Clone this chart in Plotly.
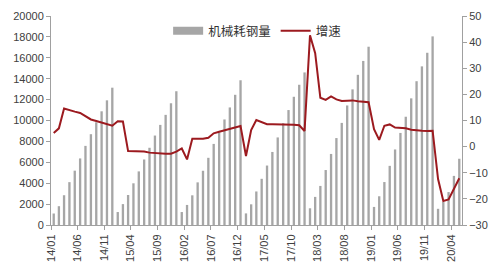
import plotly.graph_objects as go
import pandas as pd

months = pd.date_range("2014-01-01", "2020-05-01", freq="MS").strftime("%Y-%m-%d").tolist()

steel_use = [
    1100, 1800, 2850, 4100, 5200, 6370, 7570, 8690, 9830, 10880, 11930, 13140,
    1240, 2000, 2870, 3990, 5130, 6270, 7390, 8560, 9580, 10540, 11650, 12800,
    1240, 1920, 2840, 4080, 5190, 6430, 7760, 8870, 10100, 11250, 12460, 13850,
    1110, 1980, 3210, 4420, 5690, 6990, 8380, 9740, 11000, 12270, 13420, 14600,
    1600, 2690, 3740, 5260, 6800, 8320, 9770, 11440, 12980, 14370, 15700, 17060,
    1730, 2750, 4110, 5660, 7230, 8810, 10360, 12120, 13760, 15180, 16480, 18050,
    1550, 2200, 3150, 4700, 6340,
]

growth = [
    5.2, 7.0, 14.6, 13.9, 13.4, 12.9, 11.7, 10.4, 9.8, 9.2, 8.6, 8.0,
    9.7, 9.6, -1.7, -1.8, -2.0, -1.9, -2.3, -2.5, -2.5, -2.7, -2.7, -1.9,
    -0.7, -4.9, 3.0, 3.0, 3.0, 3.4, 5.1, 5.7, 6.2, 6.7, 7.3, 7.9,
    -3.6, 6.3, 10.2, 9.5, 8.6, 8.6, 8.6, 8.6, 8.5, 8.4, 8.2, 6.0,
    42.6, 35.8, 18.7, 17.9, 19.2, 18.1, 17.5, 17.6, 17.7, 17.4, 17.1, 17.0,
    6.7, 2.6, 8.0, 8.5, 7.3, 7.2, 7.0, 6.5, 6.2, 6.1, 6.0, 6.1,
    -12.4, -20.8, -20.2, -16.2, -12.1,
]

BAR_COLOR = "#a6a6a6"
LINE_COLOR = "#9c1a1f"
AXIS_COLOR = "#a0a0a0"
TEXT_COLOR = "#404040"
FONT = "Liberation Sans, Arial, sans-serif"

fig = go.Figure()
fig.add_trace(go.Bar(
    x=months, y=steel_use, name="机械耗钢量",
    marker=dict(color=BAR_COLOR, line=dict(width=0)),
    xperiod="M1", xperiodalignment="middle",
    showlegend=False,
))
# legend-only entry drawn as a wide grey rectangle
fig.add_trace(go.Scatter(
    x=[None], y=[None], mode="lines", name="机械耗钢量",
    line=dict(color=BAR_COLOR, width=8),
))
fig.add_trace(go.Scatter(
    x=months, y=growth, name="增速", mode="lines",
    line=dict(color=LINE_COLOR, width=2),
    xperiod="M1", xperiodalignment="middle",
    yaxis="y2",
))

fig.update_layout(
    width=500, height=272,
    margin=dict(l=51, r=38, t=10, b=46),
    paper_bgcolor="white", plot_bgcolor="white",
    bargap=0.55,
    font=dict(family=FONT, size=11, color=TEXT_COLOR),
    legend=dict(
        orientation="h", x=0.285, y=1.0, xanchor="left", yanchor="top",
        bgcolor="rgba(0,0,0,0)", font=dict(size=12.5, color="#333333",
                                           family="Noto Sans CJK SC, sans-serif"),
        itemwidth=30, tracegroupgap=0,
    ),
    xaxis=dict(
        type="date",
        range=["2014-01-01", "2020-06-01"],
        tick0="2014-01-01", dtick="M5", tickformat="%y/%m",
        tickangle=-90, ticks="outside", ticklen=4, tickcolor=AXIS_COLOR,
        showline=True, linecolor=AXIS_COLOR, linewidth=1,
        showgrid=False, zeroline=False,
        tickfont=dict(size=11, color=TEXT_COLOR),
    ),
    yaxis=dict(
        range=[0, 20000], dtick=2000, tickformat="d", ticks="outside", ticklen=4,
        tickcolor=AXIS_COLOR, showline=True, linecolor=AXIS_COLOR,
        showgrid=False, zeroline=False,
        tickfont=dict(size=11, color=TEXT_COLOR),
    ),
    yaxis2=dict(
        range=[-30, 50], dtick=10, overlaying="y", side="right",
        ticks="outside", ticklen=4, tickcolor=AXIS_COLOR,
        showline=True, linecolor=AXIS_COLOR,
        showgrid=False, zeroline=False,
        tickfont=dict(size=11, color=TEXT_COLOR),
    ),
)

fig.write_html("out.html")
